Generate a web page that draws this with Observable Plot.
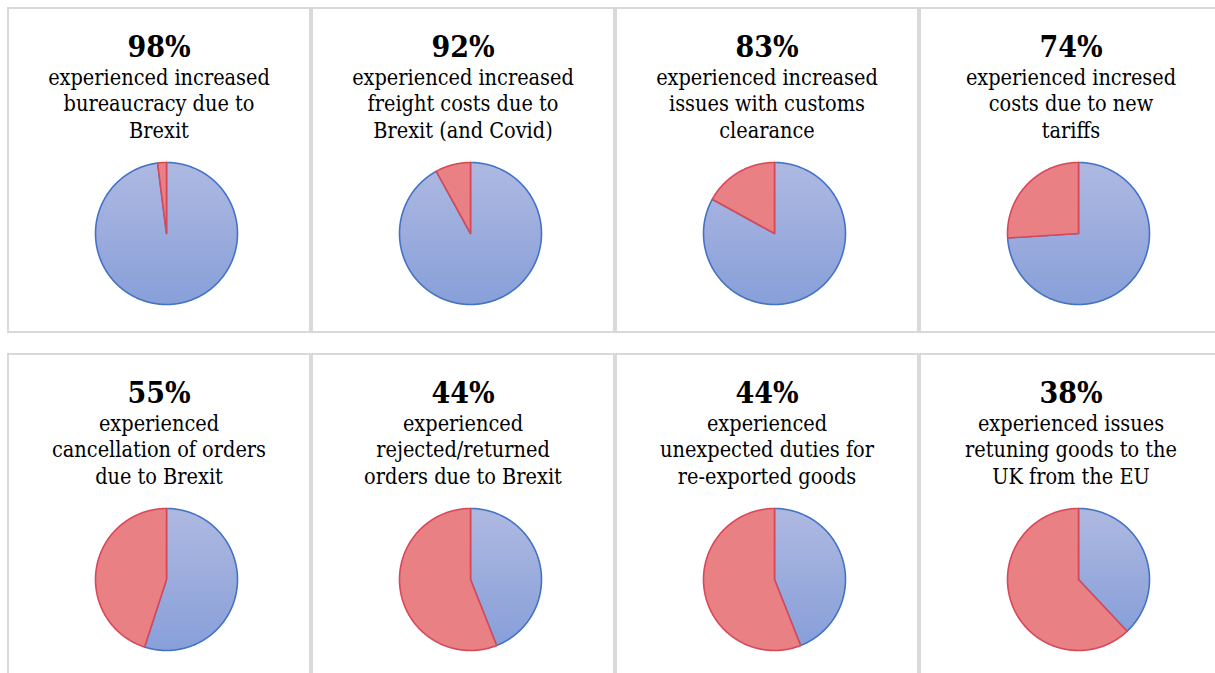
<!DOCTYPE html>
<html>
<head>
<meta charset="utf-8">
<script src="https://cdn.jsdelivr.net/npm/d3@7"></script>
<script src="https://cdn.jsdelivr.net/npm/@observablehq/plot@0.6"></script>
<style>
  html, body { margin: 0; padding: 0; background: #fff; }
  #root { position: relative; width: 1215px; height: 673px; overflow: hidden; background: #fff;
          font-family: "DejaVu Serif Condensed", "DejaVu Serif", serif; font-stretch: condensed; color: #000; }
  .panel { position: absolute; box-sizing: border-box; border: 2px solid #d9d9d9; background: #fff; }
  .title { position: absolute; text-align: center; font-weight: bold; font-size: 30px; line-height: 32px; }
  .desc { position: absolute; text-align: center; font-size: 21.5px; line-height: 26.5px; white-space: nowrap; }
  .pie { position: absolute; }
</style>
</head>
<body>
<div id="root"></div>
<script>
// ---- data ----
const percents = [98, 92, 83, 74, 55, 44, 44, 38];
const descriptions = [
  ["experienced increased", "bureaucracy due to", "Brexit"],
  ["experienced increased", "freight costs due to", "Brexit (and Covid)"],
  ["experienced increased", "issues with customs", "clearance"],
  ["experienced incresed", "costs due to new", "tariffs"],
  ["experienced", "cancellation of orders", "due to Brexit"],
  ["experienced", "rejected/returned", "orders due to Brexit"],
  ["experienced", "unexpected duties for", "re-exported goods"],
  ["experienced issues", "retuning goods to the", "UK from the EU"]
];
const sliceNames = ["yes", "no"];

// ---- layout / style constants ----
const COLS = 4, PANEL_W = 304, PANEL_H = 326, ROW_STEP = 346, ORIGIN = 7;
const PIE_SIZE = 150, PIE_MARGIN = 4;
const BLUE_TOP = "#aeb9e1", BLUE_BOTTOM = "#889fd9", BLUE_STROKE = "#4472c4";
const RED_FILL = "#e88084", RED_STROKE = "#d9485a";

const root = document.getElementById("root");

function slicePoints(startFrac, endFrac, name) {
  // polygon: centre -> arc (clockwise from 12 o'clock) -> centre
  const pts = [{x: 0, y: 0, slice: name}];
  const a0 = startFrac * 2 * Math.PI, a1 = endFrac * 2 * Math.PI;
  const n = Math.max(2, Math.ceil((a1 - a0) / (Math.PI / 360)));
  for (let k = 0; k <= n; ++k) {
    const a = a0 + (a1 - a0) * k / n;
    pts.push({x: Math.sin(a), y: Math.cos(a), slice: name});
  }
  pts.push({x: 0, y: 0, slice: name});
  return pts;
}

percents.forEach((p, i) => {
  const col = i % COLS, row = Math.floor(i / COLS);
  const left = ORIGIN + col * PANEL_W, top = ORIGIN + row * ROW_STEP;

  const panel = document.createElement("div");
  panel.className = "panel";
  Object.assign(panel.style, {left: left + "px", top: top + "px", width: PANEL_W + "px", height: PANEL_H + "px"});
  root.appendChild(panel);

  const title = document.createElement("div");
  title.className = "title";
  title.textContent = p + "%";
  Object.assign(title.style, {left: left + "px", top: (top + 23.6) + "px", width: PANEL_W + "px"});
  root.appendChild(title);

  const desc = document.createElement("div");
  desc.className = "desc";
  desc.innerHTML = descriptions[i].map(s => s.replace(/&/g, "&amp;").replace(/</g, "&lt;")).join("<br>");
  Object.assign(desc.style, {left: left + "px", top: (top + 57.7) + "px", width: PANEL_W + "px"});
  root.appendChild(desc);

  const frac = p / 100;
  const yesPts = slicePoints(0, frac, sliceNames[0]);
  const noPts = slicePoints(frac, 1, sliceNames[1]);
  const gid = "blueGrad" + i;

  const chart = Plot.plot({
    width: PIE_SIZE,
    height: PIE_SIZE,
    margin: PIE_MARGIN,
    x: {domain: [-1, 1], axis: null},
    y: {domain: [-1, 1], axis: null},
    style: {background: "transparent", overflow: "visible"},
    marks: [
      () => {
        const defs = d3.create("svg:defs");
        const g = defs.append("linearGradient").attr("id", gid)
          .attr("x1", 0).attr("y1", 0).attr("x2", 0).attr("y2", 1);
        g.append("stop").attr("offset", "0%").attr("stop-color", BLUE_TOP);
        g.append("stop").attr("offset", "100%").attr("stop-color", BLUE_BOTTOM);
        return defs.node();
      },
      Plot.line(yesPts, {x: "x", y: "y", z: "slice", fill: `url(#${gid})`, stroke: BLUE_STROKE,
                         strokeWidth: 1.6, strokeLinejoin: "round"}),
      Plot.line(noPts, {x: "x", y: "y", z: "slice", fill: RED_FILL, stroke: RED_STROKE,
                        strokeWidth: 1.6, strokeLinejoin: "round"})
    ]
  });
  chart.classList.add("pie");
  Object.assign(chart.style, {left: (left + PANEL_W / 2 + 7 - PIE_SIZE / 2) + "px",
                              top: (top + 226 - PIE_SIZE / 2) + "px"});
  root.appendChild(chart);
});
</script>
</body>
</html>
